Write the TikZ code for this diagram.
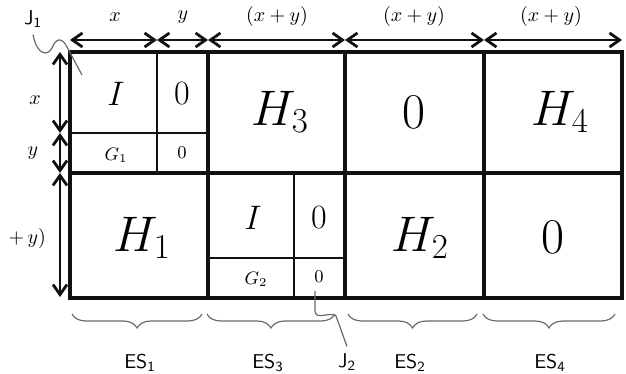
\documentclass[tikz,border=0pt]{standalone}
\usepackage{fix-cm}
\usetikzlibrary{arrows.meta,decorations.pathreplacing}
\definecolor{gridline}{HTML}{111111}
\definecolor{leadline}{HTML}{6A6A6A}

\begin{document}
\begin{tikzpicture}[x=0.5pt,y=-0.5pt,
  cellline/.style={line width=1.6pt,draw=gridline},
  innerline/.style={line width=1pt,draw=gridline},
  dimarrow/.style={{Straight Barb[length=5pt,width=7pt]}-{Straight Barb[length=5pt,width=7pt]},line width=1.4pt,draw=gridline},
  dimlabel/.style={font=\fontsize{10}{12}\selectfont},
  bigentry/.style={font=\fontsize{25}{30}\selectfont},
  midentry/.style={font=\fontsize{17}{20}\selectfont},
  smallentry/.style={font=\fontsize{9}{11}\selectfont},
  esbrace/.style={decorate,decoration={brace,mirror,amplitude=7pt},draw=leadline,line width=0.6pt},
  eslabel/.style={font=\sffamily\fontsize{10}{12}\selectfont},
  leader/.style={draw=leadline,line width=0.6pt}
]
\useasboundingbox (0,0) rectangle (626,374);
% block outline
\draw[cellline] (70,52) rectangle (622,298);
\draw[cellline] (70,173) -- (622,173);
\draw[cellline] (208,52) -- (208,298);
\draw[cellline] (345,52) -- (345,298);
\draw[cellline] (484,52) -- (484,298);
% small sub-blocks
\draw[innerline] (157,52) -- (157,173);
\draw[innerline] (70,133) -- (208,133);
\draw[innerline] (294,173) -- (294,298);
\draw[innerline] (208,258) -- (345,258);

% entries
\node[midentry] (ia) at (116,94) {$I$};
\node[midentry] (za) at (182,94) {$0$};
\node[smallentry] (ga) at (116,155) {$G_1$};
\node[smallentry] (zb) at (182,153) {$0$};
\node[bigentry] (hthree) at (280,112) {$H_3$};
\node[bigentry] (zc) at (414,112) {$0$};
\node[bigentry] (hfour) at (560,112) {$H_4$};
\node[bigentry] (hone) at (142,238) {$H_1$};
\node[midentry] (ib) at (253,218) {$I$};
\node[midentry] (zd) at (319,218) {$0$};
\node[smallentry] (gb) at (256,279) {$G_2$};
\node[smallentry] (ze) at (319,277) {$0$};
\node[bigentry] (htwo) at (420,238) {$H_2$};
\node[bigentry] (zf) at (553,237) {$0$};

% column widths
\coordinate (t0) at (70,40);
\coordinate (t1) at (157,40);
\coordinate (t2) at (208,40);
\coordinate (t3) at (345,40);
\coordinate (t4) at (484,40);
\coordinate (t5) at (622,40);
\draw[dimarrow] (t0) -- (t1);
\draw[dimarrow] (t1) -- (t2);
\draw[dimarrow] (t2) -- (t3);
\draw[dimarrow] (t3) -- (t4);
\draw[dimarrow] (t4) -- (t5);
\node[dimlabel] (wx) at (115,17) {$x$};
\node[dimlabel] (wy) at (183,17) {$y$};
\node[dimlabel] (wa) at (277,17) {$(x+y)$};
\node[dimlabel] (wb) at (414,17) {$(x+y)$};
\node[dimlabel] (wc) at (551,17) {$(x+y)$};

% row heights
\coordinate (l0) at (60,52);
\coordinate (l1) at (60,133);
\coordinate (l2) at (60,173);
\coordinate (l3) at (60,297);
\draw[dimarrow] (l0) -- (l1);
\draw[dimarrow] (l1) -- (l2);
\draw[dimarrow] (l2) -- (l3);
\node[dimlabel] (hx) at (35,100) {$x$};
\node[dimlabel] (hy) at (33,153) {$y$};
\node[dimlabel,anchor=east] (hxy) at (53,238) {$+\,y)$};

% groups below
\draw[esbrace] (72,314) -- (202,314);
\draw[esbrace] (207,314) -- (335,314);
\draw[esbrace] (348,314) -- (477,314);
\draw[esbrace] (483,314) -- (615,314);
\node[eslabel] (esone) at (140,363) {ES\textsubscript{1}};
\node[eslabel] (esthree) at (268,363) {ES\textsubscript{3}};
\node[eslabel] (estwo) at (410,363) {ES\textsubscript{2}};
\node[eslabel] (esfour) at (550,363) {ES\textsubscript{4}};

% joints
\node[eslabel] (jone) at (33,19) {J\textsubscript{1}};
\node[eslabel] (jtwo) at (347,362) {J\textsubscript{2}};
\coordinate (jonetip) at (82,75);
\coordinate (jtwotip) at (315,291);
\draw[leader] (jone.south) .. controls (37,56) and (48,56) .. (52,48)
  .. controls (56,38) and (62,37) .. (67,47) -- (jonetip);
\draw[leader] (jtwotip) -- (315,311) .. controls (316,321) and (329,311) .. (336,316) -- (jtwo.north);
\end{tikzpicture}
\end{document}
